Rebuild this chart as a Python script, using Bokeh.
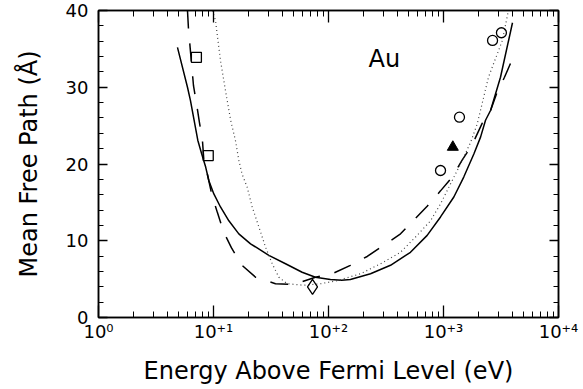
from bokeh.plotting import figure
from bokeh.models import LogAxis, LinearAxis, SingleIntervalTicker, LogTicker, Range1d
from bokeh.core.properties import value
from bokeh.embed import file_html
from bokeh.resources import INLINE

# ---- data ----
solid_E = [4.86, 5.94, 6.3, 7.3, 7.9, 8.55, 9.1, 10.07, 11.5, 13.6, 16.6, 21, 30.3, 42.3, 59, 77, 104, 130, 155, 232, 346, 516, 721, 942, 1230, 1500, 1836, 2100, 2320, 2570, 3130, 3980]
solid_L = [35.2, 30.0, 28.3, 23.1, 21.3, 19.6, 17.85, 16.1, 14.4, 12.6, 10.9, 9.6, 8.1, 7.0, 5.9, 5.25, 4.95, 4.85, 4.95, 5.7, 6.8, 8.5, 10.7, 13.1, 15.7, 18.3, 21.3, 23.5, 25.7, 27.0, 31.3, 38.4]

dash_E = [5.94, 6.06, 6.7, 7.11, 7.55, 8.02, 8.24, 8.9, 9.7, 10.8, 12.3, 14.3, 17.7, 23.2, 34.6, 49.9, 77, 108, 155, 217, 302, 423, 552, 721, 942, 1189, 1452, 1774, 2168, 2317, 2570, 2900, 3390, 3980]
dash_L = [40.0, 37.6, 30.2, 27.9, 25.4, 23.0, 20.5, 18.5, 15.9, 13.7, 11.1, 9.1, 6.8, 5.25, 4.4, 4.3, 5.25, 5.7, 6.8, 7.95, 9.4, 10.9, 12.7, 14.5, 16.5, 18.3, 20.5, 22.5, 25.3, 25.7, 27.0, 29.2, 31.3, 33.7]

dot_E = [9.8, 10.4, 11.5, 12.7, 14.1, 15.5, 16.6, 17.7, 19.6, 21.7, 24.8, 28.3, 32.4, 37, 43.7, 61, 85, 119, 190, 283, 423, 590, 771, 942, 1150, 1406, 1718, 1963, 2460, 3250, 3670]
dot_L = [40.0, 38.7, 33.5, 29.6, 25.7, 23.1, 20.5, 18.7, 17.0, 14.4, 11.8, 9.2, 7.0, 5.25, 4.4, 4.2, 4.4, 4.8, 5.7, 7.0, 8.5, 10.7, 12.6, 14.8, 17.4, 20.0, 22.8, 25.2, 31.3, 36.1, 40.0]

square_E = [7.1, 9.0]
square_L = [33.9, 21.1]
diamond_E = [72.6]
diamond_L = [4.0]
circle_E = [942, 1377, 2670, 3190]
circle_L = [19.15, 26.1, 36.1, 37.1]
triangle_E = [1205]
triangle_L = [22.2]

x_ticks = [1, 10, 100, 1000, 10000]
x_tick_labels = ["10\u2070", "10\u207a\u00b9", "10\u207a\u00b2", "10\u207a\u00b3", "10\u207a\u2074"]

label_E = 223
label_L = 33.7
label_text = "Au"

FONT = "DejaVu Sans"

p = figure(width=583, height=389, x_axis_type="log",
           x_range=Range1d(1, 10000), y_range=Range1d(0, 40),
           output_backend="svg", toolbar_location=None,
           min_border_left=98, min_border_right=25, min_border_top=10, min_border_bottom=72,
           x_axis_label="Energy Above Fermi Level (eV)",
           y_axis_label="Mean Free Path (\u00c5)")

p.xgrid.visible = False
p.ygrid.visible = False
p.outline_line_color = "black"
p.outline_line_width = 1.5
p.background_fill_color = "white"
p.border_fill_color = "white"

def style_axis(ax, labels=True):
    ax.axis_line_color = "black"
    ax.axis_line_width = 1.5
    ax.major_tick_line_color = "black"
    ax.minor_tick_line_color = "black"
    ax.major_tick_line_width = 1.3
    ax.minor_tick_line_width = 1.0
    ax.major_tick_out = 0
    ax.minor_tick_out = 0
    if labels:
        ax.major_label_text_font = FONT
        ax.major_label_text_color = "black"
        ax.axis_label_text_font = FONT
        ax.axis_label_text_font_style = "normal"
        ax.axis_label_text_color = "black"
    else:
        ax.major_label_text_font_size = "1px"
        ax.major_label_text_color = None
        ax.major_label_standoff = 0

xa = p.xaxis[0]
xa.ticker = LogTicker(desired_num_ticks=5, num_minor_ticks=10)
xa.major_label_overrides = {t: s for t, s in zip(x_ticks, x_tick_labels)}
style_axis(xa)
xa.major_tick_in = 12
xa.minor_tick_in = 6
xa.major_label_text_font_size = "18px"
xa.major_label_standoff = 3
xa.axis_label_text_font_size = "24px"
xa.axis_label_standoff = 12

ya = p.yaxis[0]
ya.ticker = SingleIntervalTicker(interval=10, num_minor_ticks=5)
style_axis(ya)
ya.major_tick_in = 9
ya.minor_tick_in = 5
ya.major_label_text_font_size = "18px"
ya.major_label_standoff = 10
ya.axis_label_text_font_size = "24px"
ya.axis_label_standoff = 20

top = LogAxis(ticker=LogTicker(desired_num_ticks=5, num_minor_ticks=10))
style_axis(top, labels=False)
top.major_tick_in = 12
top.minor_tick_in = 6
p.add_layout(top, "above")

right = LinearAxis(ticker=SingleIntervalTicker(interval=10, num_minor_ticks=5))
style_axis(right, labels=False)
right.major_tick_in = 9
right.minor_tick_in = 5
p.add_layout(right, "right")

# curves
p.line(solid_E, solid_L, line_color="black", line_width=1.5)
p.line(dash_E, dash_L, line_color="black", line_width=1.5, line_dash="18 15")
p.line(dot_E, dot_L, line_color="#444444", line_width=1.2, line_dash="1 3")

# markers
p.scatter(square_E, square_L, marker="square", size=10, fill_color=None, line_color="black", line_width=1.3)
p.scatter(diamond_E, diamond_L, marker="diamond", size=15, fill_color=None, line_color="black", line_width=1.3)
p.scatter(circle_E, circle_L, marker="circle", size=10, fill_color=None, line_color="black", line_width=1.3)
p.scatter(triangle_E, triangle_L, marker="triangle", size=11, fill_color="black", line_color="black")

p.text(x=[label_E], y=[label_L], text=[label_text], text_font=value(FONT),
       text_font_size="24px", text_color="black", text_baseline="alphabetic", text_align="left")

open("out.html", "w").write(file_html(p, INLINE))
